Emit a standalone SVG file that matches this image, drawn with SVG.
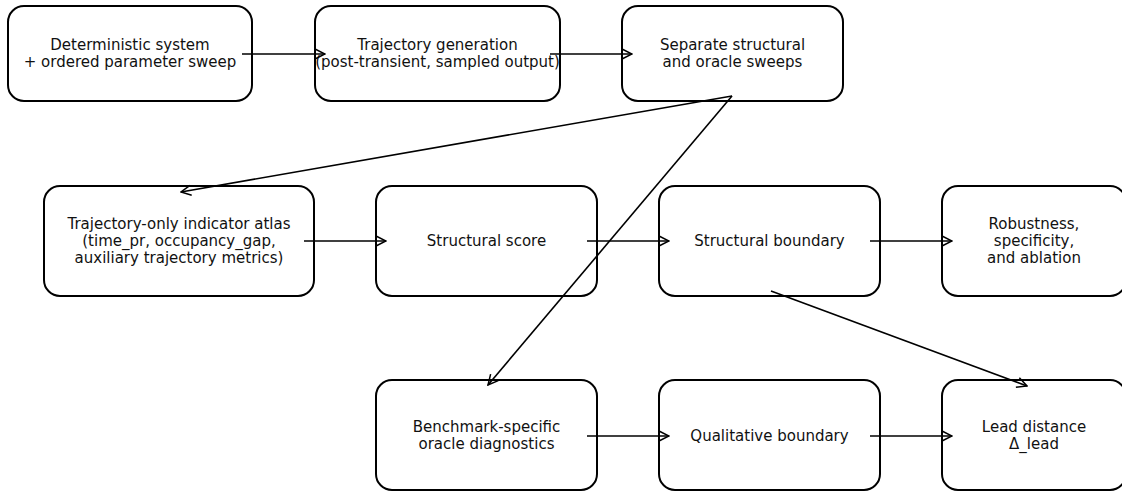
<svg xmlns="http://www.w3.org/2000/svg" width="1122" height="494" viewBox="0 0 1122 494">
<defs>
<marker id="ah" viewBox="0 0 12 12" refX="11" refY="6" markerWidth="12" markerHeight="12" markerUnits="userSpaceOnUse" orient="auto">
<path d="M1,1 L11,6 L1,11" fill="none" stroke="#000" stroke-width="1.5"/>
</marker>
<style>
.n rect{fill:#fff;stroke:#000;stroke-width:2}
.n text{font-family:"DejaVu Sans",sans-serif;font-size:15px;fill:#111;text-anchor:middle}
#edges line{stroke:#000;stroke-width:1.6;marker-end:url(#ah)}
</style>
</defs>
<rect width="1122" height="494" fill="#fff"/>
<g id="n1" class="n"><rect x="8" y="6" width="244" height="95" rx="16"/><text x="130" y="50">Deterministic system</text><text x="130" y="67">+ ordered parameter sweep</text></g>
<g id="n2" class="n"><rect x="315" y="6" width="245" height="95" rx="16"/><text x="437.5" y="50">Trajectory generation</text><text x="437.5" y="67">(post-transient, sampled output)</text></g>
<g id="n3" class="n"><rect x="622" y="6" width="221" height="95" rx="16"/><text x="732.5" y="50">Separate structural</text><text x="732.5" y="67">and oracle sweeps</text></g>
<g id="n4" class="n"><rect x="44" y="186" width="270" height="110" rx="16"/><text x="179" y="229">Trajectory-only indicator atlas</text><text x="179" y="246">(time_pr, occupancy_gap,</text><text x="179" y="263">auxiliary trajectory metrics)</text></g>
<g id="n5" class="n"><rect x="376" y="186" width="221" height="110" rx="16"/><text x="486.5" y="246">Structural score</text></g>
<g id="n6" class="n"><rect x="659" y="186" width="221" height="110" rx="16"/><text x="769.5" y="246">Structural boundary</text></g>
<g id="n7" class="n"><rect x="942" y="186" width="184" height="110" rx="16"/><text x="1034" y="229">Robustness,</text><text x="1034" y="246">specificity,</text><text x="1034" y="263">and ablation</text></g>
<g id="n8" class="n"><rect x="376" y="380" width="221" height="110" rx="16"/><text x="486.5" y="432">Benchmark-specific</text><text x="486.5" y="449">oracle diagnostics</text></g>
<g id="n9" class="n"><rect x="659" y="380" width="221" height="110" rx="16"/><text x="769.5" y="441">Qualitative boundary</text></g>
<g id="n10" class="n"><rect x="942" y="380" width="184" height="110" rx="16"/><text x="1034" y="432">Lead distance</text><text x="1034" y="449">Δ_lead</text></g>
<g id="edges">
<line x1="242" y1="54" x2="325" y2="54"/>
<line x1="550" y1="54" x2="632" y2="54"/>
<line x1="732" y1="96" x2="181" y2="192"/>
<line x1="732" y1="96" x2="488" y2="385"/>
<line x1="304" y1="241" x2="386" y2="241"/>
<line x1="587" y1="241" x2="669" y2="241"/>
<line x1="870" y1="241" x2="952" y2="241"/>
<line x1="771" y1="291" x2="1027" y2="386"/>
<line x1="587" y1="436" x2="669" y2="436"/>
<line x1="870" y1="436" x2="952" y2="436"/>
</g>
</svg>
